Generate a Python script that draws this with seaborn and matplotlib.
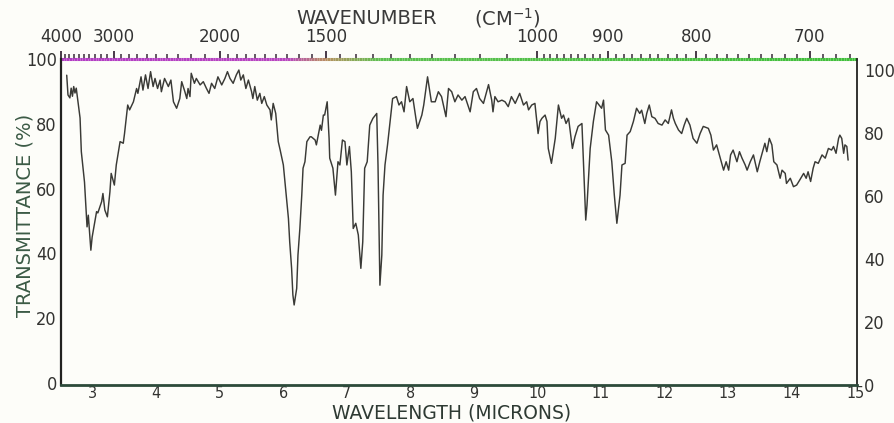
import numpy as np
import pandas as pd
import matplotlib
matplotlib.use("Agg")
import matplotlib.pyplot as plt
import seaborn as sns
from matplotlib.collections import LineCollection
from matplotlib.colors import LinearSegmentedColormap

# ---- data (wavelength in microns, transmittance in %) ----
wavelength_um = [
    2.59, 2.61, 2.64, 2.66, 2.68, 2.70, 2.72, 2.74, 2.80, 2.82, 2.87, 2.90, 2.91, 2.93, 2.97, 2.99,
    3.06, 3.08, 3.14, 3.16, 3.19, 3.23, 3.27, 3.29, 3.34, 3.37, 3.43, 3.48, 3.50, 3.55, 3.58, 3.64,
    3.69, 3.71, 3.76, 3.79, 3.83, 3.87, 3.91, 3.95, 3.98, 4.02, 4.06, 4.08, 4.13, 4.19, 4.23, 4.27,
    4.32, 4.37, 4.40, 4.45, 4.48, 4.50, 4.53, 4.55, 4.60, 4.63, 4.69, 4.74, 4.79, 4.83, 4.87, 4.92,
    4.97, 5.03, 5.08, 5.12, 5.16, 5.21, 5.26, 5.30, 5.33, 5.37, 5.41, 5.45, 5.50, 5.52, 5.55, 5.59,
    5.63, 5.66, 5.70, 5.74, 5.79, 5.81, 5.84, 5.88, 5.92, 5.95, 6.00, 6.05, 6.08, 6.10, 6.13, 6.15,
    6.17, 6.21, 6.23, 6.26, 6.29, 6.31, 6.34, 6.37, 6.42, 6.44, 6.50, 6.52, 6.58, 6.60, 6.63, 6.65,
    6.69, 6.72, 6.73, 6.78, 6.82, 6.86, 6.89, 6.93, 6.97, 7.00, 7.04, 7.07, 7.10, 7.14, 7.18, 7.22,
    7.25, 7.28, 7.32, 7.36, 7.41, 7.47, 7.49, 7.52, 7.55, 7.57, 7.60, 7.64, 7.68, 7.72, 7.78, 7.82,
    7.86, 7.90, 7.94, 7.99, 8.04, 8.11, 8.18, 8.21, 8.27, 8.33, 8.39, 8.44, 8.49, 8.56, 8.60, 8.65,
    8.70, 8.75, 8.81, 8.86, 8.94, 8.99, 9.04, 9.09, 9.15, 9.23, 9.28, 9.30, 9.33, 9.38, 9.44, 9.49,
    9.54, 9.59, 9.65, 9.72, 9.78, 9.83, 9.86, 9.91, 9.96, 9.99, 10.01, 10.04, 10.07, 10.12, 10.15, 10.17,
    10.22, 10.28, 10.33, 10.38, 10.41, 10.45, 10.49, 10.55, 10.59, 10.64, 10.70, 10.72, 10.76, 10.78, 10.83, 10.88,
    10.93, 10.97, 11.01, 11.04, 11.07, 11.12, 11.17, 11.21, 11.25, 11.30, 11.33, 11.38, 11.41, 11.46, 11.51, 11.56,
    11.61, 11.64, 11.69, 11.72, 11.76, 11.80, 11.85, 11.90, 11.96, 12.01, 12.06, 12.11, 12.14, 12.17, 12.22, 12.27,
    12.31, 12.35, 12.40, 12.45, 12.51, 12.56, 12.61, 12.69, 12.73, 12.77, 12.82, 12.87, 12.93, 12.97, 13.01, 13.04,
    13.08, 13.14, 13.18, 13.22, 13.27, 13.30, 13.35, 13.40, 13.46, 13.50, 13.55, 13.58, 13.61, 13.65, 13.69, 13.72,
    13.77, 13.82, 13.85, 13.90, 13.92, 13.98, 14.03, 14.08, 14.13, 14.19, 14.23, 14.26, 14.30, 14.34, 14.37, 14.42,
    14.48, 14.53, 14.58, 14.63, 14.66, 14.70, 14.74, 14.76, 14.79, 14.82, 14.84, 14.87, 14.89,
]
transmittance_pct = [
    95.0, 88.9, 88.0, 91.0, 88.5, 91.5, 89.5, 91.0, 81.8, 71.4, 62.0, 51.9, 48.2, 51.8, 41.0, 45.0,
    52.9, 52.5, 56.0, 58.5, 53.4, 51.3, 59.0, 64.7, 61.1, 67.3, 74.5, 74.0, 77.0, 85.8, 84.3, 86.8,
    90.9, 89.4, 94.5, 90.4, 95.1, 90.9, 96.1, 91.5, 94.0, 90.9, 93.5, 89.9, 94.0, 91.5, 93.5, 86.8,
    84.8, 87.8, 93.0, 89.9, 87.8, 90.9, 88.4, 95.6, 92.5, 94.0, 92.0, 93.0, 90.9, 89.4, 92.5, 90.9,
    94.5, 92.0, 94.0, 96.1, 94.0, 92.5, 95.1, 96.6, 93.5, 95.1, 90.9, 93.5, 89.9, 87.8, 91.5, 87.3,
    89.4, 86.3, 88.4, 85.8, 84.3, 81.2, 86.3, 83.2, 74.5, 71.9, 67.3, 57.0, 50.8, 43.6, 35.4, 27.2,
    24.1, 29.2, 39.5, 47.7, 58.0, 66.3, 68.3, 74.5, 76.0, 76.0, 75.0, 73.5, 79.6, 78.0, 82.7, 82.7,
    86.8, 75.5, 69.4, 66.3, 58.0, 68.3, 67.3, 75.0, 74.5, 67.3, 73.0, 65.2, 47.7, 49.3, 45.7, 35.4,
    43.6, 66.3, 68.3, 79.6, 81.7, 83.2, 67.3, 30.2, 39.5, 58.0, 67.3, 73.5, 80.7, 87.8, 88.4, 85.8,
    86.8, 83.7, 91.5, 86.8, 87.8, 78.6, 82.7, 85.8, 94.5, 86.8, 86.8, 89.9, 88.4, 82.2, 90.9, 89.9,
    86.8, 88.9, 87.3, 88.4, 83.7, 89.9, 90.9, 87.8, 86.3, 92.1, 87.3, 83.7, 88.4, 86.8, 87.3, 86.8,
    85.3, 88.4, 86.3, 89.4, 85.8, 86.8, 84.3, 85.8, 86.3, 80.7, 77.0, 80.7, 81.7, 82.7, 80.7, 72.4,
    67.8, 75.5, 85.8, 81.7, 82.7, 80.1, 81.7, 72.4, 76.0, 79.2, 80.1, 70.4, 50.3, 54.9, 72.4, 80.7,
    86.8, 85.8, 84.8, 87.3, 78.1, 76.5, 68.3, 58.0, 49.3, 58.0, 67.3, 67.8, 76.5, 77.6, 80.7, 84.8,
    83.2, 84.2, 80.1, 83.2, 85.8, 82.2, 81.7, 80.1, 79.6, 81.2, 80.1, 84.3, 81.7, 80.1, 78.1, 77.0,
    79.6, 81.7, 79.6, 75.5, 74.0, 77.0, 79.2, 78.6, 76.5, 71.9, 73.5, 69.9, 65.7, 68.3, 65.7, 70.4,
    71.9, 68.3, 71.4, 69.4, 67.3, 65.7, 68.3, 70.4, 65.2, 68.3, 71.9, 74.0, 71.4, 75.5, 73.5, 68.3,
    67.3, 63.2, 65.7, 64.7, 61.6, 63.2, 60.6, 61.1, 62.7, 64.7, 63.2, 65.2, 62.2, 66.3, 68.3, 67.8,
    70.4, 69.4, 72.4, 71.9, 73.0, 70.9, 75.5, 76.5, 75.5, 70.9, 73.5, 73.0, 68.8,
]
micron_ticks = list(range(3, 16))
percent_ticks = [0, 20, 40, 60, 80, 100]
wavenumber_labels = [4000, 3000, 2000, 1500, 1000, 900, 800, 700]
wavenumber_minor = (list(range(4000, 2000, -100)) + list(range(2000, 1000, -50))
                    + list(range(1000, 665, -10)))

# ---- style ----
sns.set_style("white")
plt.rcParams["font.family"] = ["DejaVu Sans"]

paper = "#fdfdf9"
ink = "#333331"

fig = plt.figure(figsize=(8.94, 4.23), dpi=100, facecolor=paper)
ax = fig.add_axes([61 / 894, 38 / 423, 796 / 894, 326 / 423])
ax.set_facecolor(paper)

df = pd.DataFrame({"wavelength": wavelength_um, "transmittance": transmittance_pct})
sns.lineplot(data=df, x="wavelength", y="transmittance", ax=ax, color="#3a3a36",
             lw=1.05, sort=False, estimator=None)

ax.set_xlim(2.5, 15.03)
ax.set_ylim(-0.6, 100)
ax.set_xlabel("")
ax.set_ylabel("")
ax.set_xticks(micron_ticks)
ax.set_yticks(percent_ticks)
ax.tick_params(axis="x", length=0, pad=1, labelsize=11.5, labelcolor=ink)
ax.tick_params(axis="y", length=0, pad=3, labelsize=13, labelcolor=ink)
for lab in ax.get_xticklabels() + ax.get_yticklabels():
    lab.set_fontstretch("condensed")

ax.spines["left"].set_color("#222220")
ax.spines["left"].set_linewidth(1.6)
ax.spines["bottom"].set_color("#2c4a3a")
ax.spines["bottom"].set_linewidth(2.0)
ax.spines["right"].set_color("#222220")
ax.spines["right"].set_linewidth(1.3)
ax.spines["top"].set_visible(False)

# right-hand percent scale (printed slightly lower in the original)
ax2 = ax.twinx()
ax2.set_ylim(0, 103.5)
ax2.set_yticks(percent_ticks)
ax2.tick_params(axis="y", length=0, pad=5, labelsize=13, labelcolor=ink)
for lab in ax2.get_yticklabels():
    lab.set_fontstretch("condensed")
for s in ax2.spines.values():
    s.set_visible(False)

# top wavenumber scale
def to_wn(x):
    x = np.asarray(x, dtype=float)
    with np.errstate(divide="ignore"):
        return 1e4 / x

sec = ax.secondary_xaxis("top", functions=(to_wn, to_wn))
sec.set_xticks(wavenumber_labels)
sec.set_xticks(wavenumber_minor, minor=True)
sec.tick_params(which="major", length=6, width=1.3, color="#3a2a3a", pad=3,
                labelsize=12, labelcolor="#333")
sec.tick_params(which="minor", length=3.5, width=1.1, color="#3a2a3a")
sec.spines["top"].set_visible(False)

# coloured top border (magenta fading to green, as printed)
xs = np.linspace(0, 1, 300)
pts = np.column_stack([xs, np.ones_like(xs)]).reshape(-1, 1, 2)
segs = np.concatenate([pts[:-1], pts[1:]], axis=1)
cmap = LinearSegmentedColormap.from_list(
    "border", [(0, "#b23cc4"), (0.28, "#b845c0"), (0.33, "#b89060"), (0.40, "#5cc050"), (1, "#3fbf3a")])
lc = LineCollection(segs, colors=cmap(xs[:-1]), linewidths=2.2, transform=ax.transAxes, clip_on=False)
ax.add_collection(lc)

# axis titles
fig.text(367 / 894, 1 - 18 / 423, "WAVENUMBER", ha="center", va="center", fontsize=14, color="#3a3a3a")
fig.text(507 / 894, 1 - 18 / 423, "(CM$^{-1}$)", ha="center", va="center", fontsize=14, color="#3a3a3a")
fig.text(452 / 894, 1 - 413 / 423, "WAVELENGTH (MICRONS)", ha="center", va="center",
         fontsize=13.5, color="#2e3a33")
fig.text(25 / 894, 1 - 215 / 423, "TRANSMITTANCE (%)", ha="center", va="center", rotation=90,
         fontsize=14, color="#3b5a45")

fig.savefig("out.png", dpi=100, facecolor=paper)
